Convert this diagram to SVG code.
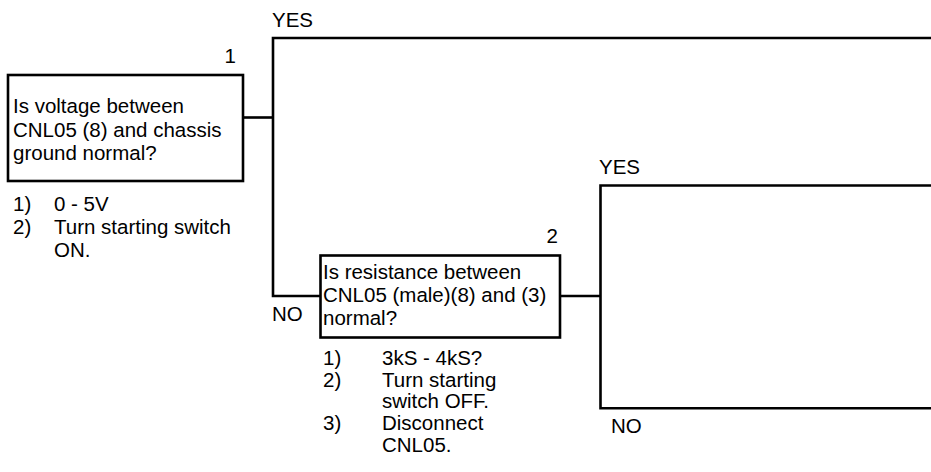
<svg xmlns="http://www.w3.org/2000/svg" width="931" height="472" viewBox="0 0 931 472">
<style>
text{font-family:"Liberation Sans",Arial,sans-serif;font-size:20.5px;fill:#000}
.box{fill:#fff;stroke:#000;stroke-width:2.6}
.ln{fill:none;stroke:#000;stroke-width:2.6}
</style>
<rect width="931" height="472" fill="#fff"/>
<g id="connectors">
<path class="ln" d="M243,117.5 H273"/>
<path class="ln" d="M931,38 H273 V296 H320.5"/>
<path class="ln" d="M560,296 H600.5"/>
<path class="ln" d="M931,185.5 H600.5 V408.3 H931"/>
<text x="272" y="27">YES</text>
<text x="272" y="321">NO</text>
<text x="599" y="174">YES</text>
<text x="611" y="433">NO</text>
</g>
<g id="node1">
<text x="236" y="63" text-anchor="end">1</text>
<rect class="box" x="8" y="75" width="235" height="106"/>
<text x="13" y="113">Is voltage between</text>
<text x="13" y="136.5">CNL05 (8) and chassis</text>
<text x="13" y="160">ground normal?</text>
<text x="13" y="211">1)</text>
<text x="54" y="211">0 - 5V</text>
<text x="13" y="234">2)</text>
<text x="54" y="234">Turn starting switch</text>
<text x="54" y="257">ON.</text>
</g>
<g id="node2">
<text x="558" y="243" text-anchor="end">2</text>
<rect class="box" x="320.5" y="255.5" width="239.5" height="82"/>
<text x="323" y="278.5">Is resistance between</text>
<text x="323" y="301.5">CNL05 (male)(8) and (3)</text>
<text x="323" y="324.5">normal?</text>
<text x="323" y="365">1)</text>
<text x="382" y="365">3kS - 4kS?</text>
<text x="323" y="386.5">2)</text>
<text x="382" y="386.5">Turn starting</text>
<text x="382" y="408">switch OFF.</text>
<text x="323" y="430">3)</text>
<text x="382" y="430">Disconnect</text>
<text x="382" y="452">CNL05.</text>
</g>
</svg>
